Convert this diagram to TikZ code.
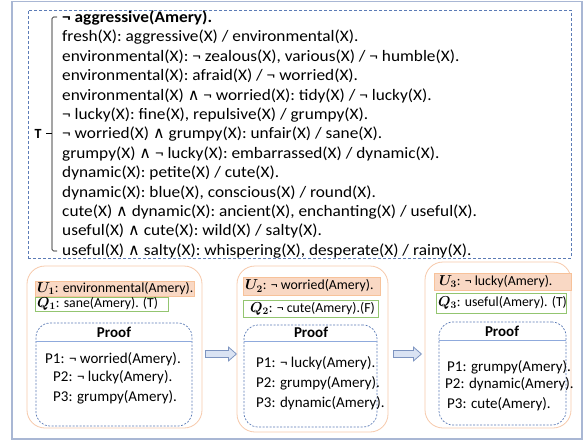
\documentclass[tikz,border=0pt]{standalone}
\usepackage{fontspec}
\usepackage{bm}
\setmainfont{Carlito}
\newfontfamily\rulefont{Carlito}[FakeStretch=1.08]
\newfontfamily\symfont{DejaVu Sans}
\usetikzlibrary{calc}
\definecolor{framec}{HTML}{A9B7D4}
\definecolor{dashc}{HTML}{5B7BB6}
\definecolor{peach}{HTML}{F6C9AB}
\definecolor{peachfill}{HTML}{F9D8C4}
\definecolor{greenc}{HTML}{93C570}
\definecolor{arrfill}{HTML}{DAE3F3}
\definecolor{arrline}{HTML}{7D94C0}
\definecolor{hdrline}{HTML}{8FAADC}
\newcommand\myand{{\symfont\fontsize{16}{18}\selectfont ∧}}
\newcommand\mkbox[6]{\node[#2, minimum width={#5-#3}, minimum height={#6-#4}, inner sep=0pt] (#1) at ({(#3+#5)/2},{(#4+#6)/2}) {};}
\tikzset{
  rule/.style={anchor=west, inner sep=0pt, font=\rulefont\fontsize{16}{18}\selectfont},
  ptxt/.style={anchor=west, inner sep=0pt, font=\fontsize{15}{17}\selectfont},
  uqtxt/.style={anchor=west, inner sep=0pt, font=\fontsize{13.8}{16}\selectfont},
  panel/.style={draw=peach, line width=0.8pt, rounded corners=18pt},
  ubox/.style={draw=peach!90!orange, fill=peachfill, line width=0.6pt},
  qbox/.style={draw=greenc, line width=0.8pt},
  proofbox/.style={draw=dashc, dash pattern=on 2pt off 1.5pt, line width=0.7pt, rounded corners=14pt},
  blockarr/.style={draw=arrline, fill=arrfill, line width=0.8pt, line join=miter},
  hdr/.style={anchor=center, inner sep=0pt, font=\fontsize{15}{17}\selectfont\bfseries},
}
\begin{document}
\begin{tikzpicture}[x=1pt,y=-1pt]
\useasboundingbox (0,0) rectangle (586,441);
% outer frame
\mkbox{frame}{draw=framec, line width=1.6pt}{12}{1.5}{582}{439}
% T dashed box
\mkbox{tbox}{draw=dashc, dash pattern=on 3pt off 2pt, line width=0.7pt}{28}{10}{571}{258}
% rules
\node[rule] (l1) at (62,18) {\textbf{¬ aggressive(Amery).}};
\node[rule] (l2) at (62,37.4) {fresh(X): aggressive(X) / environmental(X).};
\node[rule] (l3) at (62,56.8) {environmental(X): ¬ zealous(X), various(X) / ¬ humble(X).};
\node[rule] (l4) at (62,76.2) {environmental(X): afraid(X) / ¬ worried(X).};
\node[rule] (l5) at (62,95.6) {environmental(X) \myand{} ¬ worried(X): tidy(X) / ¬ lucky(X).};
\node[rule] (l6) at (62,115) {¬ lucky(X): fine(X), repulsive(X) / grumpy(X).};
\node[rule] (l7) at (62,134.4) {¬ worried(X) \myand{} grumpy(X): unfair(X) / sane(X).};
\node[rule] (l8) at (62,153.8) {grumpy(X) \myand{} ¬ lucky(X): embarrassed(X) / dynamic(X).};
\node[rule] (l9) at (62,173.2) {dynamic(X): petite(X) / cute(X).};
\node[rule] (l10) at (62,192.6) {dynamic(X): blue(X), conscious(X) / round(X).};
\node[rule] (l11) at (62,212) {cute(X) \myand{} dynamic(X): ancient(X), enchanting(X) / useful(X).};
\node[rule] (l12) at (62,231.4) {useful(X) \myand{} cute(X): wild(X) / salty(X).};
\node[rule] (l13) at (62,250.8) {useful(X) \myand{} salty(X): whispering(X), desperate(X) / rainy(X).};
% brace
\draw[line width=0.7pt, rounded corners=1.5pt] (57,17) -- (52,17) -- (52,251) -- (57,251);
\node[inner sep=0pt, font=\fontsize{14}{16}\selectfont\bfseries] (tlab) at (38,133.5) {T};
\draw[line width=0.7pt] (52,133.5) -- (46,133.5);
% panels
\mkbox{pan1}{panel}{27}{266}{202}{428}
\mkbox{pan2}{panel}{237}{266}{388}{432}
\mkbox{pan3}{panel}{425}{262}{571}{428}
% panel 1
\mkbox{u1}{ubox}{35}{281}{194}{296}
\node[uqtxt] (u1t) at (37,288.5) {$\bm{U}_{\bm{1}}$: environmental(Amery).};
\mkbox{q1}{qbox}{35}{297}{168}{311}
\node[uqtxt] (q1t) at (37,304) {$\bm{Q}_{\bm{1}}$: sane(Amery). (T)};
\mkbox{pr1}{proofbox}{36}{323}{192}{426}
\draw[hdrline, line width=0.8pt] (pr1.west |- 0,341) -- (pr1.east |- 0,341);
\node[hdr] (h1) at (114,332) {Proof};
\node[ptxt] (p11) at (45,359) {P1: ¬ worried(Amery).};
\node[ptxt] (p12) at (53,377) {P2: ¬ lucky(Amery).};
\node[ptxt] (p13) at (53,397) {P3: grumpy(Amery).};
% panel 2
\mkbox{u2}{ubox}{243}{277}{380}{295}
\node[uqtxt] (u2t) at (245,286) {$\bm{U}_{\bm{2}}$: ¬ worried(Amery).};
\mkbox{q2}{qbox}{243}{300}{378}{317}
\node[uqtxt] (q2t) at (250,308.5) {$\bm{Q}_{\bm{2}}$: ¬ cute(Amery).(F)};
\mkbox{pr2}{proofbox}{244}{325}{377}{427}
\draw[hdrline, line width=0.8pt] (pr2.west |- 0,341) -- (pr2.east |- 0,341);
\node[hdr] (h2) at (311,332) {Proof};
\node[ptxt] (p21) at (256,363) {P1: ¬ lucky(Amery).};
\node[ptxt] (p22) at (256,383) {P2: grumpy(Amery).};
\node[ptxt] (p23) at (256,403) {P3: dynamic(Amery).};
% panel 3
\mkbox{u3}{ubox}{434}{273}{571}{290}
\node[uqtxt] (u3t) at (439,281.5) {$\bm{U}_{\bm{3}}$: ¬ lucky(Amery).};
\mkbox{q3}{qbox}{436}{293}{566}{313}
\node[uqtxt] (q3t) at (438,303) {$\bm{Q}_{\bm{3}}$: useful(Amery). (T)};
\mkbox{pr3}{proofbox}{439}{322}{566}{425}
\draw[hdrline, line width=0.8pt] (pr3.west |- 0,340) -- (pr3.east |- 0,340);
\node[hdr] (h3) at (502,331) {Proof};
\node[ptxt] (p31) at (447,367) {P1: grumpy(Amery).};
\node[ptxt] (p32) at (445,384) {P2: dynamic(Amery).};
\node[ptxt] (p33) at (447,404) {P3: cute(Amery).};
% block arrows
\coordinate (a1) at ($(pan1.east |- 0,354)+(3,0)$);
\coordinate (a2) at ($(pan2.east |- 0,354)+(5,0)$);
\draw[blockarr] (a1) ++(0,-3.5) -- ++(23,0) -- ++(0,-3.5) -- ++(8,7) -- ++(-8,7) -- ++(0,-3.5) -- ++(-23,0) -- cycle;
\draw[blockarr] (a2) ++(0,-3.5) -- ++(20,0) -- ++(0,-3.5) -- ++(8,7) -- ++(-8,7) -- ++(0,-3.5) -- ++(-20,0) -- cycle;
\end{tikzpicture}
\end{document}
